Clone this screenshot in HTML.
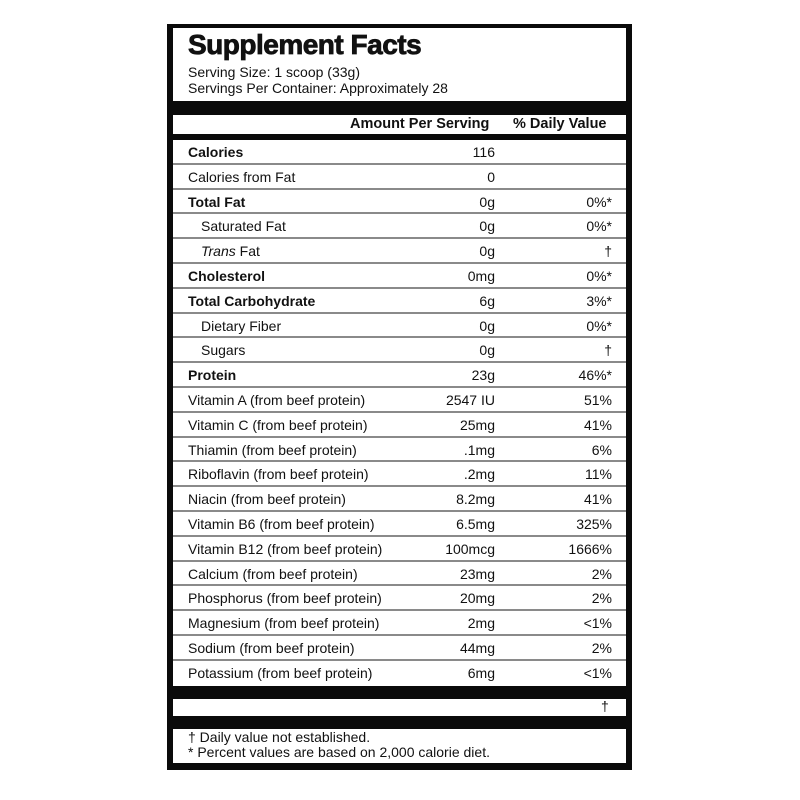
<!DOCTYPE html>
<html><head><style>
body{margin:0;width:800px;height:800px;background:#fff;position:relative;font-family:"Liberation Sans",sans-serif;color:#111;overflow:hidden}
.a{position:absolute}
.box{left:167px;top:24px;width:465px;height:746px;background:#0a0a0a}
.w{background:#fff;left:173px;width:453px}
.row{position:absolute;left:173px;width:453px;height:24px;font-size:14px;line-height:25px;border-bottom:2px solid #8a8a8a;box-sizing:border-box;background:#fff}
.row .l{position:absolute;left:15px}
.row .m{position:absolute;right:131px}
.row .r{position:absolute;right:14px}
.b{font-weight:bold}
</style></head><body>
<div class="a box"></div>
<div class="a w" style="top:28px;height:73px"></div>
<div class="a" style="left:188px;top:29px;font-size:28px;font-weight:bold;letter-spacing:-0.5px;-webkit-text-stroke:0.8px #111">Supplement Facts</div>
<div class="a" style="left:188px;top:64px;font-size:14px;line-height:16px">Serving Size: 1 scoop (33g)<br>Servings Per Container: Approximately 28</div>
<div class="a w" style="top:115px;height:19px"></div>
<div class="a b" style="left:350px;top:116px;font-size:14.5px">Amount Per Serving</div>
<div class="a b" style="left:513px;top:116px;font-size:14.5px">% Daily Value</div>
<div id="rows"></div>
<div class="a w" style="top:699px;height:17px"></div>
<div class="a" style="left:601px;top:698px;font-size:14px">†</div>
<div class="a w" style="top:729px;height:34px"></div>
<div class="a" style="left:188px;top:730px;font-size:14px;line-height:15px">† Daily value not established.<br>* Percent values are based on 2,000 calorie diet.</div>
<script>
var d=[["Calories","116","",1],["Calories from Fat","0",""],["Total Fat","0g","0%*",1],["Saturated Fat","0g","0%*",2],["<i>Trans</i> Fat","0g","†",2],["Cholesterol","0mg","0%*",1],["Total Carbohydrate","6g","3%*",1],["Dietary Fiber","0g","0%*",2],["Sugars","0g","†",2],["Protein","23g","46%*",1],["Vitamin A (from beef protein)","2547 IU","51%"],["Vitamin C (from beef protein)","25mg","41%"],["Thiamin (from beef protein)",".1mg","6%"],["Riboflavin (from beef protein)",".2mg","11%"],["Niacin (from beef protein)","8.2mg","41%"],["Vitamin B6 (from beef protein)","6.5mg","325%"],["Vitamin B12 (from beef protein)","100mcg","1666%"],["Calcium (from beef protein)","23mg","2%"],["Phosphorus (from beef protein)","20mg","2%"],["Magnesium (from beef protein)","2mg","<1%"],["Sodium (from beef protein)","44mg","2%"],["Potassium (from beef protein)","6mg","<1%"]];
var h="";d.forEach(function(r,i){var top=140+i*24.8;var st=r[3]==1?"font-weight:bold;":"";var lx=r[3]==2?"left:28px;":"";var bb=i==d.length-1?"border-bottom:none;":"";
h+='<div class="row" style="top:'+top+'px;height:24.8px;'+bb+'"><span class="l" style="'+st+lx+'">'+r[0]+'</span><span class="m">'+r[1]+'</span><span class="r">'+r[2].replace("<","&lt;")+'</span></div>';});
document.getElementById("rows").innerHTML=h;
</script>
</body></html>
